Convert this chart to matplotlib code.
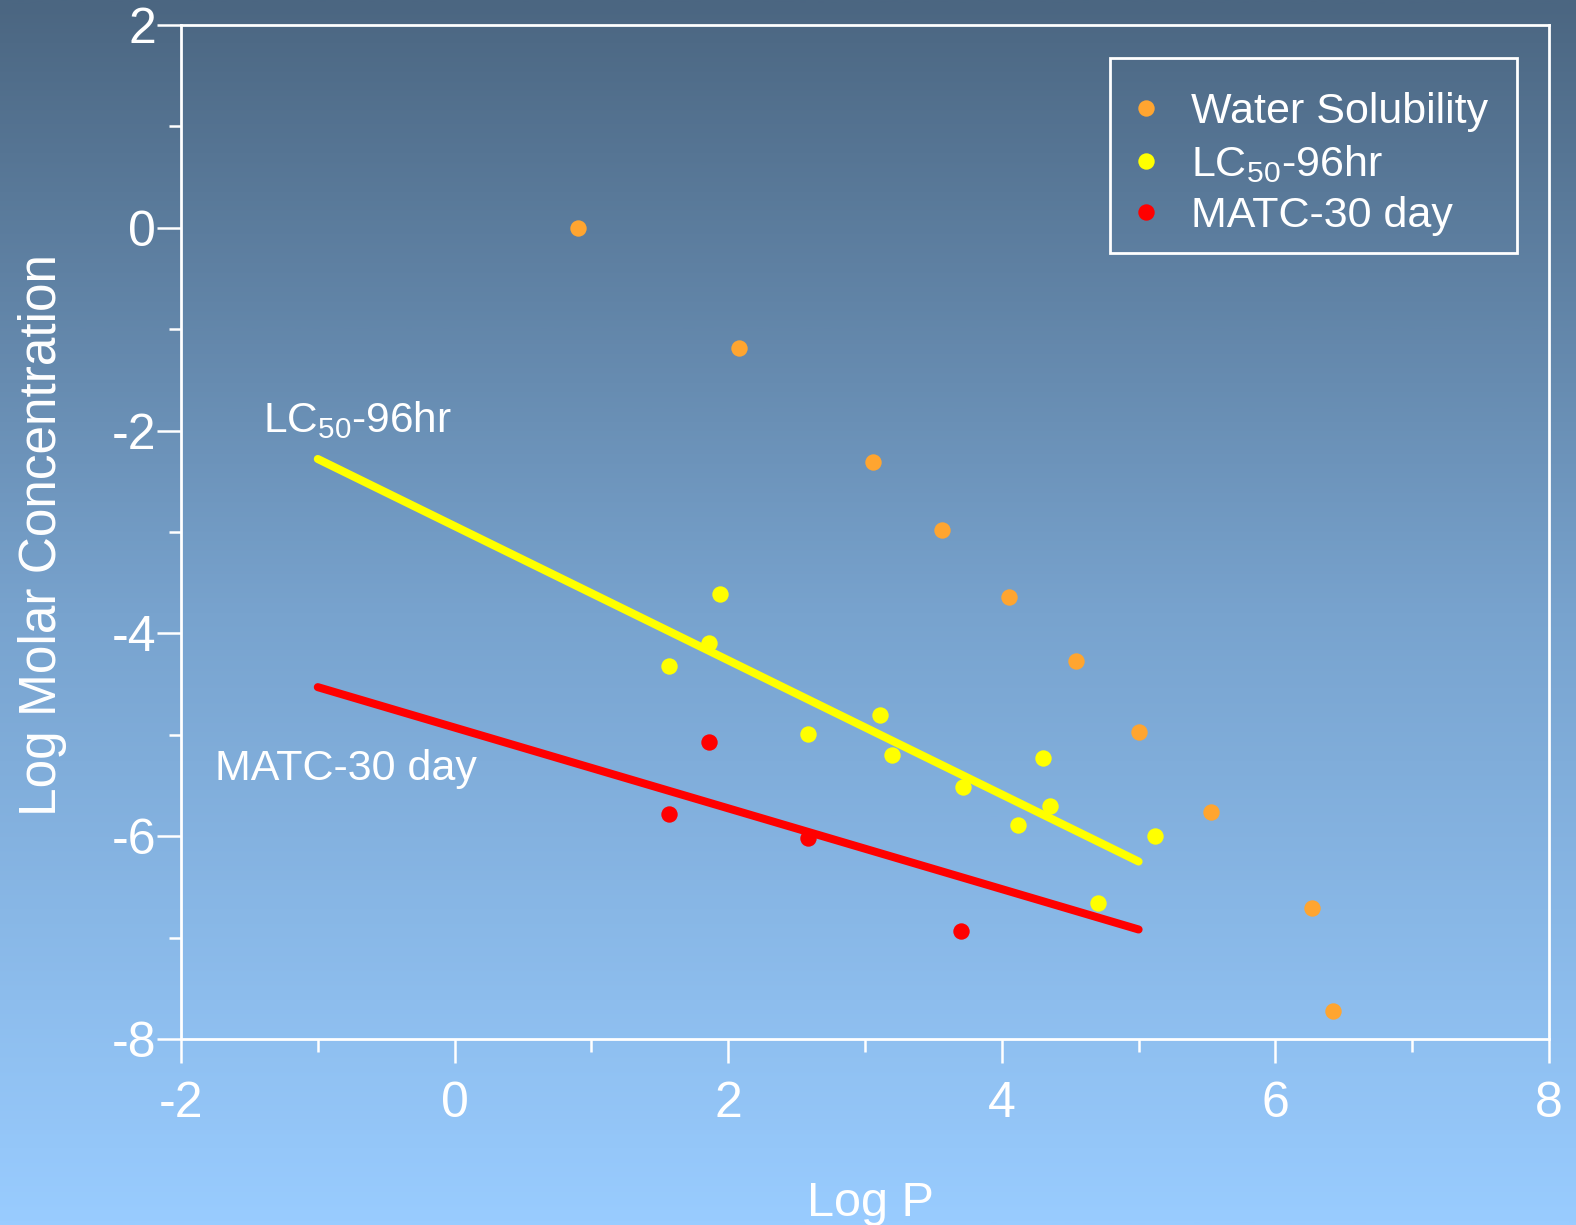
import numpy as np
import matplotlib
matplotlib.use('Agg')
import matplotlib.pyplot as plt
from matplotlib.colors import LinearSegmentedColormap
from matplotlib.ticker import MultipleLocator
from matplotlib.patches import Rectangle

plt.rcParams['font.family'] = ['Liberation Sans', 'DejaVu Sans']
plt.rcParams['mathtext.fontset'] = 'custom'
plt.rcParams['mathtext.rm'] = 'Liberation Sans'
plt.rcParams['mathtext.it'] = 'Liberation Sans:italic'
plt.rcParams['mathtext.bf'] = 'Liberation Sans:bold'
plt.rcParams['axes.unicode_minus'] = False

# ---- data ----
ws_x = [0.90, 2.08, 3.06, 3.56, 4.05, 4.54, 5.00, 5.53, 6.27, 6.42]
ws_y = [0.00, -1.19, -2.31, -2.98, -3.64, -4.27, -4.97, -5.76, -6.71, -7.72]

lc_x = [1.57, 1.86, 1.94, 2.58, 3.11, 3.20, 3.72, 4.12, 4.30, 4.35, 4.70, 5.12]
lc_y = [-4.32, -4.09, -3.61, -4.99, -4.80, -5.20, -5.51, -5.89, -5.23, -5.70, -6.66, -6.00]

matc_x = [1.57, 1.86, 2.58, 3.70]
matc_y = [-5.78, -5.07, -6.02, -6.93]

lc_fit_x = [-1.0, 5.0]
lc_fit_y = [-2.28, -6.25]
matc_fit_x = [-1.0, 5.0]
matc_fit_y = [-4.53, -6.92]

labels = ['Water Solubility', 'LC$_\\mathrm{50}$-96hr', 'MATC-30 day']
xticks = [-2, 0, 2, 4, 6, 8]
yticks = [-8, -6, -4, -2, 0, 2]

ORANGE = '#ffa530'
YELLOW = '#ffff00'
RED = '#ff0000'
WHITE = 'white'

fig = plt.figure(figsize=(15.76, 12.25), dpi=100)

# gradient background
bg = fig.add_axes([0, 0, 1, 1], zorder=0)
grad = np.linspace(0, 1, 512).reshape(-1, 1)
cmap = LinearSegmentedColormap.from_list(
    'bg', [(0.0, '#4b6681'), (0.5, '#78a3ce'), (1.0, '#99ccff')])
bg.imshow(grad, aspect='auto', cmap=cmap, extent=[0, 1, 0, 1], origin='upper')
bg.axis('off')

ax = fig.add_axes([181/1576, 1 - 1039/1225, 1368/1576, 1014/1225], zorder=1)
ax.set_facecolor('none')

ax.plot(lc_fit_x, lc_fit_y, color=YELLOW, lw=5.8, solid_capstyle='round', zorder=2)
ax.plot(matc_fit_x, matc_fit_y, color=RED, lw=5.8, solid_capstyle='round', zorder=2)

ms = 11.8
h1, = ax.plot(ws_x, ws_y, 'o', color=ORANGE, ms=ms, mew=0, zorder=3)
h2, = ax.plot(lc_x, lc_y, 'o', color=YELLOW, ms=ms, mew=0, zorder=3)
h3, = ax.plot(matc_x, matc_y, 'o', color=RED, ms=ms, mew=0, zorder=3)

ax.set_xlim(-2, 8)
ax.set_ylim(-8, 2)
ax.set_xticks(xticks)
ax.set_yticks(yticks)
ax.xaxis.set_minor_locator(MultipleLocator(1))
ax.yaxis.set_minor_locator(MultipleLocator(1))

for s in ax.spines.values():
    s.set_color(WHITE)
    s.set_linewidth(2)

ax.tick_params(axis='both', which='major', colors=WHITE, labelcolor=WHITE,
               direction='out', length=17, width=1.8, labelsize=36)
ax.tick_params(axis='both', which='minor', colors=WHITE, direction='out',
               length=9, width=1.8)
ax.tick_params(axis='x', which='major', pad=13)
ax.tick_params(axis='y', which='major', pad=1)

ax.set_xlabel('Log P', fontsize=35, color=WHITE)
ax.xaxis.label.set_va('baseline')
ax.xaxis.set_label_coords(0.504, -0.1746)
ax.set_ylabel('Log Molar Concentration', fontsize=37, color=WHITE)
ax.yaxis.label.set_va('center')
ax.yaxis.set_label_coords(-0.1010, 0.497)

ax.text(-1.40, -2.01, 'LC$_\\mathrm{50}$-96hr', fontsize=30.5, color=WHITE,
        ha='left', va='baseline')
ax.text(-1.75, -5.34, 'MATC-30 day', fontsize=31, color=WHITE,
        ha='left', va='center')

# legend frame (drawn separately) and legend entries
x0, x1 = (1110 - 181) / 1368, (1517 - 181) / 1368
y0, y1 = (1039 - 253) / 1014, (1039 - 58) / 1014
ax.add_patch(Rectangle((x0, y0), x1 - x0, y1 - y0, transform=ax.transAxes,
                       facecolor='none', edgecolor=WHITE, lw=2, zorder=4,
                       clip_on=False))
leg = ax.legend([h1, h2, h3], labels, loc='upper left',
                bbox_to_anchor=((1135 - 181) / 1368, (1039 - 92) / 1014),
                borderaxespad=0, borderpad=0,
                fontsize=31, frameon=False,
                labelspacing=0.26, handlelength=0.5,
                handletextpad=0.8, labelcolor=WHITE)

fig.savefig('out.png', dpi=100)
